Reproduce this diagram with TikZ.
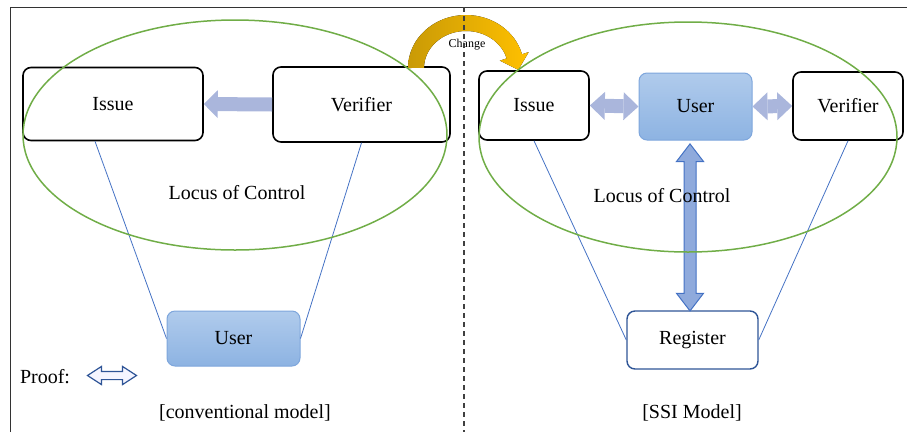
\documentclass[tikz,border=0pt]{standalone}
\usepackage{fontspec}
\setmainfont{Liberation Serif}
\usetikzlibrary{arrows.meta,shapes.arrows,calc}

\definecolor{ringgreen}{HTML}{70AD47}
\definecolor{thinblue}{HTML}{4472C4}
\definecolor{flowblue}{RGB}{170,182,220}
\definecolor{usertop}{HTML}{B0CBEC}
\definecolor{userbot}{HTML}{8DB3E2}
\definecolor{userline}{HTML}{7EA6DC}
\definecolor{regline}{HTML}{2F5597}
\definecolor{linkfill}{HTML}{8FAADC}
\definecolor{golddark}{HTML}{C99A06}
\definecolor{goldlight}{HTML}{FFC000}

\begin{document}
\begin{tikzpicture}[x=1pt,y=-1pt,
    font=\fontsize{20}{23}\selectfont,
    box/.style={draw=black, line width=1.6pt, rounded corners=8pt, fill=white, inner sep=0pt},
    userbox/.style={draw=userline, line width=1pt, rounded corners=8pt, top color=usertop, bottom color=userbot, inner sep=0pt},
    regbox/.style={draw=regline, line width=1.4pt, rounded corners=8pt, fill=white, inner sep=0pt},
    flow/.style={flowblue, line width=14pt}]
    \useasboundingbox (0,0) rectangle (907,432);

    % Frame
    \draw[black!80, line width=1pt] (10,432) -- (10,7) -- (907,7);

    % Conventional model
    \node[box, minimum width=180pt, minimum height=73pt] (issue) at (113,104) {Issue};
    \node[box, minimum width=177pt, minimum height=75pt] (verifier) at (361.5,104.5) {Verifier};
    \node[userbox, minimum width=133pt, minimum height=55pt] (user) at (233.5,338.5) {User};

    \draw[thinblue, line width=0.8pt] ([xshift=-18pt]issue.south) -- (user.west);
    \draw[thinblue, line width=0.8pt] (verifier.south) -- (user.east);
    \draw[flow, -{Triangle[width=28pt,length=14pt,line width=0pt]}] (verifier.west) -- (issue.east);

    % SSI model
    \node[box, minimum width=110pt, minimum height=69pt] (ssiissue) at (534,105.5) {Issue};
    \node[userbox, minimum width=113pt, minimum height=67pt] (ssiuser) at (695.5,106.5) {User};
    \node[box, minimum width=110pt, minimum height=68pt] (ssiverifier) at (848,106) {Verifier};
    \node[regbox, minimum width=131pt, minimum height=58pt] (register) at (692.5,340) {Register};

    \draw[thinblue, line width=0.8pt] (ssiissue.south) -- (register.west);
    \draw[thinblue, line width=0.8pt] (ssiverifier.south) -- (register.east);
    \draw[flow, {Triangle[width=28pt,length=15pt,line width=0pt]}-{Triangle[width=28pt,length=15pt,line width=0pt]}] (ssiissue.east) -- (ssiuser.west);
    \draw[flow, {Triangle[width=28pt,length=15pt,line width=0pt]}-{Triangle[width=28pt,length=15pt,line width=0pt]}] (ssiuser.east) -- (ssiverifier.west);
    \node[double arrow, draw=thinblue, fill=linkfill, line width=1pt, rotate=90, inner xsep=0pt, inner ysep=5.5pt,
          minimum height=167pt, double arrow head extend=7.5pt,
          double arrow tip angle=75] (link) at ($(ssiuser.south)!0.5!(register.north)+(-4,2)$) {};

    % Change arrow
    \fill[left color=golddark, right color=goldlight] (408,68) arc[start angle=180, end angle=345, x radius=58, y radius=53]
        -- (528.7,52.1) -- (518.3,69.8) -- (499.9,60.7) -- (506.6,58.4)
        arc[start angle=345, end angle=180, x radius=42, y radius=37] -- cycle;
    \node[font=\fontsize{12}{14}\selectfont] (change) at (467,45) {Change};

    % Locus of control
    \draw[ringgreen, line width=1.5pt] (235,135) ellipse [x radius=212, y radius=115];
    \draw[ringgreen, line width=1.5pt] (688,137) ellipse [x radius=209, y radius=115];
    \node (locusL) at (237,193) {Locus of Control};
    \node (locusR) at (662,196) {Locus of Control};

    % Legend and captions
    \node (proof) at (45,377) {Proof:};
    \node[double arrow, draw=regline, fill=blue!4, line width=1.2pt, inner xsep=0pt, inner ysep=3.5pt,
          minimum height=49pt, double arrow head extend=5pt,
          double arrow tip angle=66] (proofarrow) at (112,375.5) {};
    \node (capL) at (245,413) {[conventional model]};
    \node (capR) at (692,413) {[SSI Model]};

    % Divider
    \draw[black!75, line width=1.2pt, dash pattern=on 5pt off 4pt] (464,7) -- (464,432);
\end{tikzpicture}
\end{document}
